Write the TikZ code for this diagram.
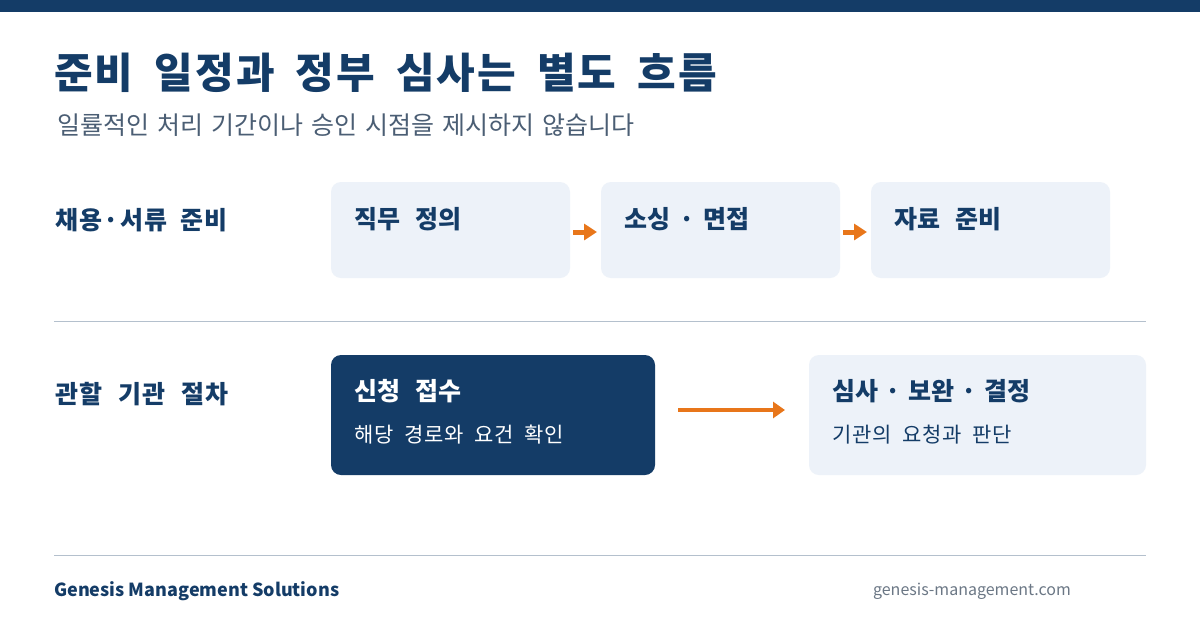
\documentclass[tikz,border=0pt]{standalone}
\usepackage{fontspec}
\setmainfont{Noto Sans CJK KR}
\usetikzlibrary{arrows.meta}
\definecolor{navy}{HTML}{143C67}
\definecolor{orng}{HTML}{E8761A}
\definecolor{pale}{HTML}{EDF2F9}
\definecolor{subgray}{HTML}{4B5E74}
\definecolor{rule}{HTML}{B4C0CD}
\definecolor{urlgray}{HTML}{6B7785}
\newcommand{\gs}{\hspace{8pt}}
\newcommand{\dg}{\hspace{9pt}}
\tikzset{
  lightbox/.style={fill=pale, rounded corners=10pt, draw=none},
  darkbox/.style={fill=navy, rounded corners=10pt, draw=none},
  boxtitle/.style={anchor=west, inner sep=0pt, font=\fontsize{25}{29}\selectfont\bfseries\renewcommand{\gs}{\hspace{15pt}}, text=navy},
  boxsub/.style={anchor=west, inner sep=0pt, font=\fontsize{21}{25}\selectfont\addfontfeature{LetterSpace=3}\renewcommand{\gs}{\hspace{11pt}}, text=navy},
  rowlabel/.style={anchor=west, inner sep=0pt, font=\fontsize{25}{29}\selectfont\bfseries\addfontfeature{LetterSpace=5}\renewcommand{\gs}{\hspace{16pt}}, text=navy},
  flow/.style={draw=orng, line width=4pt, -{Triangle[length=12pt,width=16pt]}},
  sflow/.style={draw=orng, line width=5pt, -{Triangle[length=13pt,width=16pt]}},
  sep/.style={draw=rule, line width=1pt}
}
\begin{document}
\begin{tikzpicture}[x=1pt,y=-1pt]
\useasboundingbox (0,0) rectangle (1200,630);
\fill[white] (0,0) rectangle (1200,630);
\fill[navy] (0,0) rectangle (1200,12);
% title
\node[anchor=west, inner sep=0pt, font=\fontsize{42}{48}\selectfont\bfseries\addfontfeature{LetterSpace=5}\renewcommand{\gs}{\hspace{21pt}}, text=navy] (title) at (54,73) {준비\gs 일정과\gs 정부\gs 심사는\gs 별도\gs 흐름};
\node[anchor=west, inner sep=0pt, font=\fontsize{25}{29}\selectfont\renewcommand{\gs}{\hspace{8pt}}, text=subgray] (subtitle) at (57,125) {일률적인\gs 처리\gs 기간이나\gs 승인\gs 시점을\gs 제시하지\gs 않습니다};
% row 1
\node[rowlabel] (lab1) at (55,220) {채용·서류\hspace{13pt}준비};
\path[lightbox] (331,182) rectangle (570,278);
\path[lightbox] (601,182) rectangle (840,278);
\path[lightbox] (871,182) rectangle (1110,278);
\coordinate (b1e) at (573,232);
\coordinate (b2w) at (597,232);
\coordinate (b2e) at (843,232);
\coordinate (b3w) at (867,232);
\node[boxtitle] (t1) at (354,219) {직무\gs 정의};
\node[boxtitle] (t2) at (624,219) {소싱\dg ·\dg 면접};
\node[boxtitle] (t3) at (894,219) {자료\gs 준비};
\draw[sflow] (b1e) -- (b2w);
\draw[sflow] (b2e) -- (b3w);
% separator
\coordinate (s1a) at (54,321);
\coordinate (s1b) at (1146,321);
\draw[sep] (s1a) -- (s1b);
% row 2
\node[rowlabel] (lab2) at (55,394) {관할\gs 기관\gs 절차};
\path[darkbox] (331,355) rectangle (655,475);
\path[lightbox] (809,355) rectangle (1146,475);
\node[boxtitle, text=white] (t4) at (354,391) {신청\gs 접수};
\node[boxsub, text=white] (s4) at (354,435) {해당\gs 경로와\gs 요건\gs 확인};
\node[boxtitle] (t5) at (832,391) {심사\hspace{7.5pt}·\hspace{7.5pt}보완\hspace{7.5pt}·\hspace{7.5pt}결정};
\node[boxsub] (s5) at (832,435) {기관의\gs 요청과\gs 판단};
\coordinate (a1) at (678,410);
\coordinate (a2) at (785,410);
\draw[flow] (a1) -- (a2);
% footer
\coordinate (s2a) at (54,555);
\coordinate (s2b) at (1146,555);
\draw[sep] (s2a) -- (s2b);
\node[anchor=west, inner sep=0pt, font=\fontsize{18}{22}\selectfont\bfseries, text=navy] (brand) at (54,591) {Genesis Management Solutions};
\node[anchor=east, inner sep=0pt, font=\fontsize{16}{20}\selectfont, text=urlgray] (url) at (1071,591) {genesis-management.com};
\end{tikzpicture}
\end{document}
